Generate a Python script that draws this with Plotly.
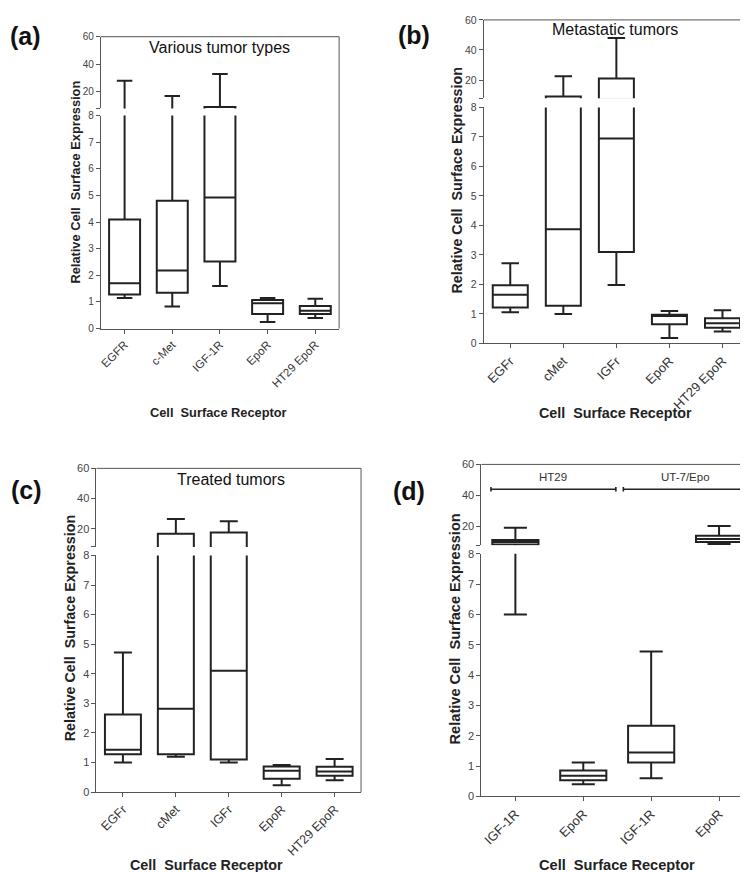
import plotly.graph_objects as go

W, H = 748, 872

# ---------------- data ----------------
# Panel (a) Various tumor types
a_labels = ["EGFR", "c-Met", "IGF-1R", "EpoR", "HT29 EpoR"]
a_min = [1.15, 0.83, 1.60, 0.25, 0.40]
a_q1 = [1.28, 1.35, 2.52, 0.55, 0.55]
a_med = [1.70, 2.18, 4.92, 0.95, 0.67]
a_q3 = [4.10, 4.80, 9.00, 1.07, 0.85]
a_max = [28.0, 17.0, 33.0, 1.15, 1.12]

# Panel (b) Metastatic tumors
b_labels = ["EGFr", "cMet", "IGFr", "EpoR", "HT29 EpoR"]
b_min = [1.06, 1.00, 1.98, 0.18, 0.40]
b_q1 = [1.22, 1.28, 3.10, 0.65, 0.53]
b_med = [1.65, 3.87, 6.95, 0.93, 0.68]
b_q3 = [1.97, 9.00, 21.0, 0.97, 0.85]
b_max = [2.72, 22.5, 48.0, 1.10, 1.12]

# Panel (c) Treated tumors
c_labels = ["EGFr", "cMet", "IGFr", "EpoR", "HT29 EpoR"]
c_min = [1.00, 1.20, 1.00, 0.23, 0.40]
c_q1 = [1.28, 1.28, 1.10, 0.45, 0.55]
c_med = [1.43, 2.82, 4.10, 0.72, 0.70]
c_q3 = [2.62, 16.8, 17.6, 0.87, 0.86]
c_max = [4.72, 26.5, 25.0, 0.92, 1.12]

# Panel (d) HT29 vs UT-7/Epo
d_labels = ["IGF-1R", "EpoR", "IGF-1R", "EpoR"]
d_min = [6.00, 0.40, 0.60, 8.8]
d_q1 = [8.40, 0.53, 1.12, 10.0]
d_med = [10.0, 0.68, 1.45, 12.0]
d_q3 = [11.3, 0.85, 2.33, 14.0]
d_max = [19.3, 1.12, 4.78, 20.3]
d_groups = ["HT29", "UT-7/Epo"]

lower_ticks = [0, 1, 2, 3, 4, 5, 6, 7, 8]
upper_ticks = [8, 20, 40, 60]
upper_ticktext = ["", "20", "40", "60"]

# ---------------- layout geometry (pixels) ----------------
panels = [
    dict(tag="(a)", title="Various tumor types", labels=a_labels, mn=a_min, q1=a_q1, med=a_med, q3=a_q3, mx=a_max,
         L=91, R=330, ut=23, ub=95.8, lt=103, lb=319, bw=0.65,
         tagxy=(16, 22), titlexy=(210, 33.5), xtitle=(208.7, 404), ytitle=(66, 170),
         fs_y=10, fs_x=11.5, fs_title=12.8),
    dict(tag="(b)", title="Metastatic tumors", labels=b_labels, mn=b_min, q1=b_q1, med=b_med, q3=b_q3, mx=b_max,
         L=475, R=741, ut=6, ub=85.3, lt=94.7, lb=334, bw=0.66,
         tagxy=(405.5, 21.5), titlexy=(607, 15.5), xtitle=(607, 405), ytitle=(448, 169),
         fs_y=10.5, fs_x=13, fs_title=14.3),
    dict(tag="(c)", title="Treated tumors", labels=c_labels, mn=c_min, q1=c_q1, med=c_med, q3=c_q3, mx=c_max,
         L=86.7, R=352, ut=460.7, ub=540.4, lt=549, lb=789, bw=0.68,
         tagxy=(16.5, 483), titlexy=(222, 471.5), xtitle=(197, 862.5), ytitle=(61, 623),
         fs_y=11, fs_x=12.5, fs_title=14.3),
    dict(tag="(d)", title=None, labels=d_labels, mn=d_min, q1=d_q1, med=d_med, q3=d_q3, mx=d_max,
         L=472.7, R=745, ut=456.7, ub=538.6, lt=547.3, lb=793.3, bw=0.68,
         tagxy=(400.5, 484), titlexy=None, xtitle=(609, 862.5), ytitle=(445.7, 623.5),
         fs_y=11, fs_x=13, fs_title=14.6),
]

FONT = "Liberation Sans, Arial, sans-serif"
AX = "#555555"
BOXC = "#222222"

fig = go.Figure()
layout = dict(width=W, height=H, margin=dict(l=0, r=0, t=0, b=0),
              paper_bgcolor="white", plot_bgcolor="white", showlegend=False)
shapes, annos = [], []


def yd(top, bot):
    return [1 - bot / H, 1 - top / H]


for i, p in enumerate(panels):
    n = len(p["labels"])
    xs = list(range(n))
    lo_x, up_x = 2 * i + 1, 2 * i + 2
    lo_y, up_y = 2 * i + 1, 2 * i + 2
    xdom = [p["L"] / W, p["R"] / W]
    for ax_x, ax_y in [(lo_x, lo_y), (up_x, up_y)]:
        fig.add_trace(go.Box(
            x=xs, q1=p["q1"], median=p["med"], q3=p["q3"],
            lowerfence=p["mn"], upperfence=p["mx"],
            width=p["bw"], whiskerwidth=0.5, boxpoints=False,
            line=dict(color=BOXC, width=2), fillcolor="white",
            xaxis="x%d" % ax_x, yaxis="y%d" % ax_y, hoverinfo="skip",
        ))
    # lower axes
    layout["xaxis%d" % lo_x] = dict(
        domain=xdom, anchor="y%d" % lo_y, range=[-0.5, n - 0.5],
        tickmode="array", tickvals=xs, ticktext=p["labels"], tickangle=-45,
        ticks="outside", ticklen=4, tickcolor=AX, showline=True, linecolor=AX, linewidth=1,
        showgrid=False, zeroline=False,
        tickfont=dict(family=FONT, size=p["fs_x"], color="#333333"))
    layout["yaxis%d" % lo_y] = dict(
        domain=yd(p["lt"], p["lb"]), anchor="x%d" % lo_x, range=[0, 8],
        tickmode="array", tickvals=lower_ticks, ticks="outside", ticklen=4, tickcolor=AX,
        showline=True, linecolor=AX, linewidth=1, showgrid=False, zeroline=False,
        tickfont=dict(family=FONT, size=p["fs_y"], color="#444444"))
    # upper axes
    layout["xaxis%d" % up_x] = dict(
        domain=xdom, anchor="y%d" % up_y, range=[-0.5, n - 0.5],
        showticklabels=False, ticks="", showline=False, showgrid=False, zeroline=False)
    layout["yaxis%d" % up_y] = dict(
        domain=yd(p["ut"], p["ub"]), anchor="x%d" % up_x, range=[8, 60],
        tickmode="array", tickvals=upper_ticks, ticktext=upper_ticktext,
        ticks="outside", ticklen=4, tickcolor=AX,
        showline=True, linecolor=AX, linewidth=1, showgrid=False, zeroline=False,
        tickfont=dict(family=FONT, size=p["fs_y"], color="#444444"))
    # frame: top and right borders
    shapes.append(dict(type="line", xref="paper", yref="paper",
                       x0=p["L"] / W, x1=p["R"] / W, y0=1 - p["ut"] / H, y1=1 - p["ut"] / H,
                       line=dict(color=AX, width=1)))
    shapes.append(dict(type="line", xref="paper", yref="paper",
                       x0=p["R"] / W, x1=p["R"] / W, y0=1 - p["ut"] / H, y1=1 - p["lb"] / H,
                       line=dict(color=AX, width=1)))
    # texts
    annos.append(dict(text="<b>%s</b>" % p["tag"], xref="paper", yref="paper",
                      x=p["tagxy"][0] / W, y=1 - p["tagxy"][1] / H, xanchor="center", yanchor="middle",
                      showarrow=False, font=dict(family=FONT, size=25, color="#111111")))
    if p["title"]:
        annos.append(dict(text=p["title"], xref="paper", yref="paper",
                          x=p["titlexy"][0] / W, y=1 - p["titlexy"][1] / H, xanchor="center", yanchor="middle",
                          showarrow=False, font=dict(family=FONT, size=16, color="#111111")))
    annos.append(dict(text="<b>Cell  Surface Receptor</b>", xref="paper", yref="paper",
                      x=p["xtitle"][0] / W, y=1 - p["xtitle"][1] / H, xanchor="center", yanchor="middle",
                      showarrow=False, font=dict(family=FONT, size=p["fs_title"], color="#222222")))
    annos.append(dict(text="<b>Relative Cell  Surface Expression</b>", xref="paper", yref="paper",
                      x=p["ytitle"][0] / W, y=1 - p["ytitle"][1] / H, xanchor="center", yanchor="middle",
                      textangle=-90, showarrow=False,
                      font=dict(family=FONT, size=p["fs_title"], color="#222222")))

# panel (d) group brackets on the upper axes of panel d
brackets = [(-0.36, 1.48), (1.59, 3.43)]
for (x0, x1), name in zip(brackets, d_groups):
    for sh in [dict(x0=x0, x1=x1, y0=44, y1=44),
               dict(x0=x0, x1=x0, y0=42.6, y1=45.4),
               dict(x0=x1, x1=x1, y0=42.6, y1=45.4)]:
        shapes.append(dict(type="line", xref="x8", yref="y8", line=dict(color="#222222", width=1.6), **sh))
    annos.append(dict(text=name, xref="x8", yref="y8", x=(x0 + x1) / 2, y=51.6,
                      xanchor="center", yanchor="middle", showarrow=False,
                      font=dict(family=FONT, size=11.5, color="#333333")))

layout["shapes"] = shapes
layout["annotations"] = annos
fig.update_layout(**layout)
fig.write_html("out.html")
